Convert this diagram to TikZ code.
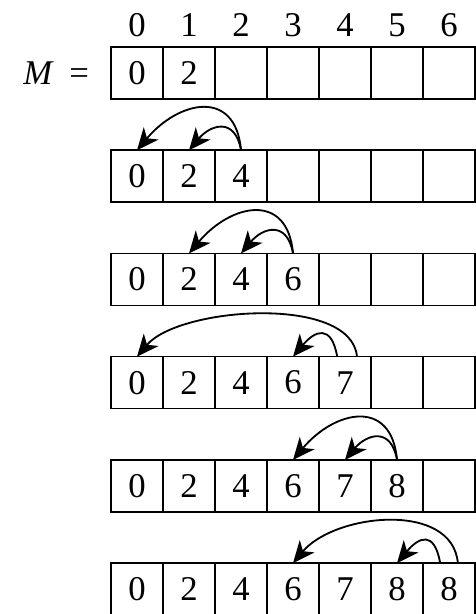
\documentclass[tikz,border=0pt]{standalone}
\usepackage{amsmath}
\usepackage{fontspec}
\setmainfont{Liberation Serif}
\usepackage{tikz}
\usetikzlibrary{arrows.meta,positioning,calc}

\begin{document}
\begin{tikzpicture}[every node/.style={font=\fontsize{19}{22}\selectfont},
    cell/.style={draw,thick,minimum width=1cm,minimum height=1cm,inner sep=0pt,outer sep=0pt,anchor=north west},
    back/.style={-{Stealth[length=12pt,width=10.5pt,inset=3.5pt]},line width=1pt},
    longarc/.style={out=95,in=50,out distance=1.2cm,in distance=1.25cm},
    shortarc/.style={out=100,in=50,out distance=0.65cm,in distance=0.65cm}]
  \useasboundingbox (0,0) rectangle (9.135,-11.808);

  % the array M after each step (row r holds r+1 entries)
  \foreach \r in {1,...,6} {
    \foreach \v [count=\c from 0] in {0,2,4,6,7,8,8} {
      \pgfmathtruncatemacro\filled{\c<=\r}
      \node[cell] (m\r-\c) at ({2.135+\c},{-0.904-1.985*(\r-1)})
        {\ifnum\filled=1 \v\fi};
    }
  }

  % indices and name
  \foreach \c in {0,...,6}
    \node[above=0.08cm of m1-\c] (idx\c) {\c};
  \node[left=0.3cm of m1-0] (name) {\textit{M}\hspace{0.3cm}=};

  % back pointers
  \draw[back] (m2-2.north) to[longarc] (m2-0.north);
  \draw[back] (m2-2.north) to[shortarc] (m2-1.north);

  \draw[back] (m3-3.north) to[longarc] (m3-1.north);
  \draw[back] (m3-3.north) to[shortarc] (m3-2.north);

  \draw[back] ([xshift=0.23cm]m4-4.north) to[longarc] (m4-0.north);
  \draw[back] ([xshift=-0.15cm]m4-4.north) to[shortarc] (m4-3.north);

  \draw[back] (m5-5.north) to[longarc] (m5-3.north);
  \draw[back] (m5-5.north) to[shortarc] (m5-4.north);

  \draw[back] ([xshift=0.17cm]m6-6.north) to[longarc] (m6-3.north);
  \draw[back] ([xshift=-0.17cm]m6-6.north) to[shortarc] (m6-5.north);
\end{tikzpicture}
\end{document}
